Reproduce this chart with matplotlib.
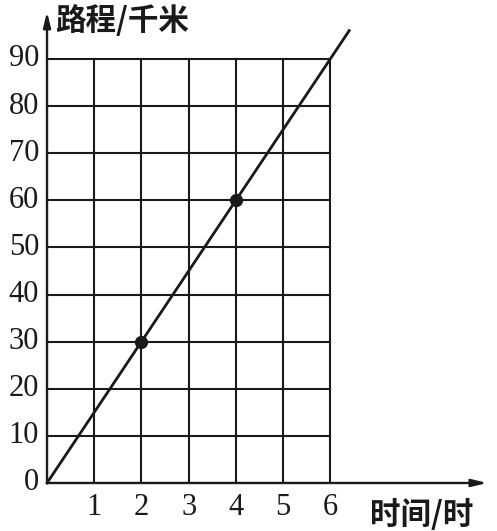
import matplotlib
matplotlib.use("Agg")
import matplotlib.pyplot as plt

# data
hours = [1, 2, 3, 4, 5, 6]
distances = [0, 10, 20, 30, 40, 50, 60, 70, 80, 90]
line_x = [0, 6.4]
line_y = [0, 96]
point_x = [2, 4]
point_y = [30, 60]

cjk = ['Noto Sans CJK SC', 'DejaVu Sans']
num_font = 'Liberation Serif'

fig = plt.figure(figsize=(4.97, 5.31), dpi=100)
ax = fig.add_axes([0, 0, 1, 1])
ax.set_xlim(-0.996, 9.53)
ax.set_ylim(-10.19, 102.5)
ax.axis('off')

# grid
for h in hours:
    ax.plot([h, h], [0, distances[-1]], color='#1a1a1a', lw=1.5, zorder=1)
for d in distances[1:]:
    ax.plot([0, hours[-1]], [d, d], color='#1a1a1a', lw=1.5, zorder=1)

# axes with arrows
ax.annotate("", xy=(9.32, 0), xytext=(0, 0),
            arrowprops=dict(arrowstyle="-|>,head_length=0.9,head_width=0.22",
                            lw=1.7, color='#1a1a1a', shrinkA=0, shrinkB=0))
ax.annotate("", xy=(0, 100), xytext=(0, 0),
            arrowprops=dict(arrowstyle="-|>,head_length=0.9,head_width=0.22",
                            lw=1.7, color='#1a1a1a', shrinkA=0, shrinkB=0))

# distance line and points
ax.plot(line_x, line_y, color='#1a1a1a', lw=2.0, zorder=3)
ax.plot(point_x, point_y, 'o', color='#1a1a1a', ms=8.5, zorder=4)

# tick labels
for h in hours:
    ax.text(h, -5.1, str(h), ha='center', va='center', fontsize=22,
            family=num_font, color='#1a1a1a')
for d in distances:
    ax.text(-0.17, d, str(d), ha='right', va='center', fontsize=22,
            family=num_font, color='#1a1a1a')

# axis titles
ax.text(0.17, 98.0, "路程/千米", ha='left', va='center', fontsize=22,
        family=cjk, weight='bold', color='#1a1a1a')
ax.text(6.85, -6.8, "时间/时", ha='left', va='center', fontsize=22,
        family=cjk, weight='bold', color='#1a1a1a')

fig.savefig("out.png", dpi=100)
